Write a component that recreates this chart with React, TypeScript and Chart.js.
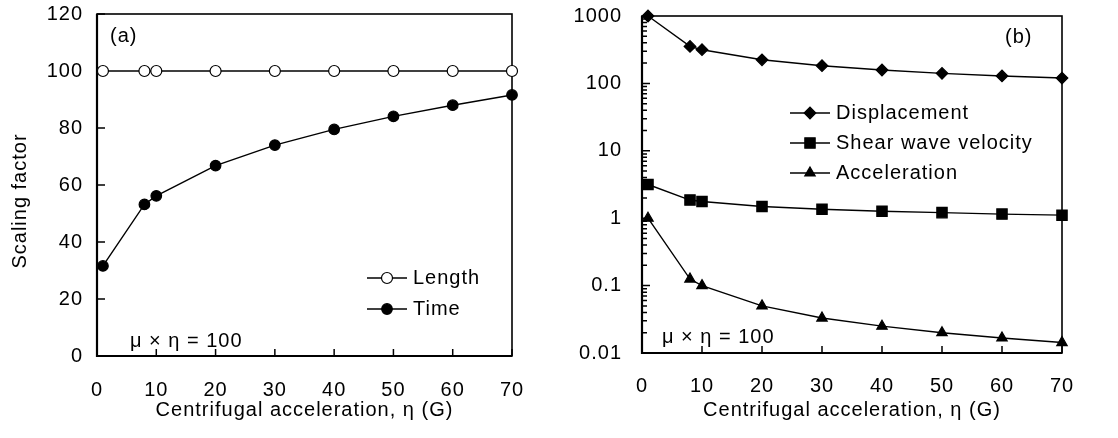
import React, { useEffect, useRef } from 'react';
import { Chart, registerables } from 'chart.js';

Chart.register(...registerables);

// ---------------- data ----------------
const etaValues = [1, 8, 10, 20, 30, 40, 50, 60, 70];
const lengthFactor = [100, 100, 100, 100, 100, 100, 100, 100, 100];
const timeFactor = [31.6, 53.2, 56.2, 66.8, 74.0, 79.5, 84.1, 88.0, 91.6];
const displacementFactor = [1000, 354, 316, 224, 183, 158, 141, 129, 120];
const shearVelocityFactor = [3.16, 1.86, 1.77, 1.49, 1.36, 1.27, 1.21, 1.15, 1.11];
const accelerationFactor = [1, 0.125, 0.1, 0.05, 0.033, 0.025, 0.02, 0.0167, 0.0143];

const xTicks = [0, 10, 20, 30, 40, 50, 60, 70];
const yTicksA = [0, 20, 40, 60, 80, 100, 120];
const yTicksB = [0.01, 0.1, 1, 10, 100, 1000];

const xTitle = 'Centrifugal acceleration, \u03B7 (G)';
const yTitleA = 'Scaling factor';
const relationText = '\u03BC \u00D7 \u03B7 = 100';

// ---------------- styles ----------------
const FAMILY = '"Liberation Sans", Arial, Helvetica, sans-serif';
const FS = 20;
const font = { family: FAMILY, size: FS };
const fontStr = `${FS}px ${FAMILY}`;

const pts = (ys: number[]) => etaValues.map((x, i) => ({ x, y: ys[i] }));

function drawMarker(ctx: CanvasRenderingContext2D, style: string, x: number, y: number, r: number, fill: string, stroke: string, bw: number) {
  ctx.beginPath();
  if (style === 'circle') {
    ctx.arc(x, y, r, 0, Math.PI * 2);
  } else if (style === 'rectRot') {
    ctx.moveTo(x - r, y);
    ctx.lineTo(x, y - r);
    ctx.lineTo(x + r, y);
    ctx.lineTo(x, y + r);
  } else if (style === 'rect') {
    const s = Math.SQRT1_2 * r;
    ctx.rect(x - s, y - s, 2 * s, 2 * s);
  } else if (style === 'triangle') {
    for (let k = 0; k < 3; k++) {
      const a = (k * 2 * Math.PI) / 3;
      const px = x + Math.sin(a) * r;
      const py = y - Math.cos(a) * r;
      if (k === 0) ctx.moveTo(px, py); else ctx.lineTo(px, py);
    }
  }
  ctx.closePath();
  ctx.fillStyle = fill;
  ctx.fill();
  ctx.lineWidth = bw;
  ctx.strokeStyle = stroke;
  ctx.stroke();
}

const spacingPlugin = {
  id: 'spacing',
  beforeLayout(chart: any) { chart.ctx.letterSpacing = '1px'; },
  beforeDraw(chart: any) { chart.ctx.letterSpacing = '1px'; },
};

const framePlugin = {
  id: 'frame',
  beforeDatasetsDraw(chart: any) {
    const { ctx, chartArea: a, scales } = chart;
    const xs = scales.x;
    const ys = scales.y;
    ctx.save();
    ctx.strokeStyle = '#000';
    ctx.lineWidth = 1.6;
    ctx.strokeRect(a.left, a.top, a.right - a.left, a.bottom - a.top);
    ctx.lineWidth = 2.2;
    ctx.beginPath();
    ctx.moveTo(a.left, a.top);
    ctx.lineTo(a.left, a.bottom);
    ctx.lineTo(a.right, a.bottom);
    ctx.stroke();
    ctx.lineWidth = 1.5;
    ctx.beginPath();
    xs.ticks.forEach((t: any) => {
      const px = xs.getPixelForValue(t.value);
      ctx.moveTo(px, a.bottom);
      ctx.lineTo(px, a.bottom - 7);
    });
    ys.ticks.forEach((t: any) => {
      const py = ys.getPixelForValue(t.value);
      ctx.moveTo(a.left, py);
      ctx.lineTo(a.left + 8, py);
    });
    if (ys.type === 'logarithmic') {
      for (let i = 0; i < yTicksB.length - 1; i++) {
        for (let k = 2; k <= 9; k++) {
          const py = ys.getPixelForValue(yTicksB[i] * k);
          ctx.moveTo(a.left, py);
          ctx.lineTo(a.left + 5, py);
        }
      }
    }
    ctx.stroke();
    ctx.restore();
  },
};

function makeAnnotPlugin(cfg: {
  panel: string; panelX: number; panelY: number;
  relX: number; relY: number;
  legX0: number; legX1: number; legMx: number; legTx: number; legY0: number; legDy: number;
  yTitle?: { text: string; x: number; y: number };
}) {
  return {
    id: 'annot',
    afterDatasetsDraw(chart: any) {
      const ctx = chart.ctx;
      ctx.save();
      ctx.letterSpacing = '1px';
      ctx.font = fontStr;
      ctx.fillStyle = '#000';
      ctx.textAlign = 'left';
      ctx.textBaseline = 'middle';
      ctx.fillText(cfg.panel, cfg.panelX, cfg.panelY);
      ctx.textBaseline = 'alphabetic';
      ctx.fillText(relationText, cfg.relX, cfg.relY);
      chart.data.datasets.forEach((ds: any, i: number) => {
        const y = cfg.legY0 + i * cfg.legDy;
        ctx.beginPath();
        ctx.strokeStyle = '#000';
        ctx.lineWidth = ds.borderWidth;
        ctx.moveTo(cfg.legX0, y);
        ctx.lineTo(cfg.legX1, y);
        ctx.stroke();
        drawMarker(ctx, ds.pointStyle, cfg.legMx, y, ds.pointRadius, ds.pointBackgroundColor, ds.pointBorderColor, ds.pointBorderWidth);
        ctx.fillStyle = '#000';
        ctx.textBaseline = 'middle';
        ctx.textAlign = 'left';
        ctx.fillText(ds.label, cfg.legTx, y);
      });
      if (cfg.yTitle) {
        ctx.translate(cfg.yTitle.x, cfg.yTitle.y);
        ctx.rotate(-Math.PI / 2);
        ctx.textAlign = 'center';
        ctx.textBaseline = 'middle';
        ctx.fillText(cfg.yTitle.text, 0, 0);
      }
      ctx.restore();
    },
  };
}

const lineDs = (label: string, data: number[], style: string, r: number, fill: string) => ({
  label,
  data: pts(data),
  borderColor: '#000',
  borderWidth: 1.4,
  pointStyle: style,
  pointRadius: r,
  pointBackgroundColor: fill,
  pointBorderColor: '#000',
  pointBorderWidth: 1.2,
  clip: false,
  tension: 0,
});

function xScale(height: number, pad: number) {
  return {
    type: 'linear',
    min: 0,
    max: 70,
    afterBuildTicks: (s: any) => { s.ticks = xTicks.map((v) => ({ value: v })); },
    grid: { display: false, drawTicks: false },
    border: { display: false },
    ticks: { padding: pad, font, color: '#000', callback: (v: any) => String(v), maxRotation: 0, autoSkip: false },
    title: { display: true, text: xTitle, font, color: '#000', padding: { top: 0, bottom: 16 } },
    afterFit: (s: any) => { s.height = height; s.paddingLeft = 0; s.paddingRight = 0; },
  };
}

function buildA(canvas: HTMLCanvasElement) {
  return new Chart(canvas, {
    type: 'line',
    data: {
      datasets: [
        lineDs('Length', lengthFactor, 'circle', 5.5, '#fff'),
        lineDs('Time', timeFactor, 'circle', 5.3, '#000'),
      ],
    },
    options: {
      animation: false,
      responsive: false,
      devicePixelRatio: 1,
      events: [],
      layout: { padding: { left: 0, right: 47, top: 14, bottom: 0 } },
      plugins: { legend: { display: false }, tooltip: { enabled: false } },
      scales: {
        x: xScale(82, 22),
        y: {
          type: 'linear',
          min: 0,
          max: 120,
          afterBuildTicks: (s: any) => { s.ticks = yTicksA.map((v) => ({ value: v })); },
          grid: { display: false, drawTicks: false },
          border: { display: false },
          ticks: { padding: 14, font, color: '#000', callback: (v: any) => String(v) },
          afterFit: (s: any) => { s.width = 97; s.paddingTop = 0; s.paddingBottom = 0; },
        },
      },
    } as any,
    plugins: [
      spacingPlugin,
      framePlugin,
      makeAnnotPlugin({
        panel: '(a)', panelX: 110, panelY: 36,
        relX: 130, relY: 347,
        legX0: 367, legX1: 407, legMx: 387, legTx: 413, legY0: 278, legDy: 31,
        yTitle: { text: yTitleA, x: 20, y: 201 },
      }),
    ],
  } as any);
}

function buildB(canvas: HTMLCanvasElement) {
  return new Chart(canvas, {
    type: 'line',
    data: {
      datasets: [
        lineDs('Displacement', displacementFactor, 'rectRot', 5.8, '#000'),
        lineDs('Shear wave velocity', shearVelocityFactor, 'rect', 7.3, '#000'),
        lineDs('Acceleration', accelerationFactor, 'triangle', 6.0, '#000'),
      ],
    },
    options: {
      animation: false,
      responsive: false,
      devicePixelRatio: 1,
      events: [],
      layout: { padding: { left: 0, right: 56, top: 16, bottom: 0 } },
      plugins: { legend: { display: false }, tooltip: { enabled: false } },
      scales: {
        x: xScale(85, 21),
        y: {
          type: 'logarithmic',
          min: 0.01,
          max: 1000,
          afterBuildTicks: (s: any) => { s.ticks = yTicksB.map((v) => ({ value: v, major: true })); },
          grid: { display: false, drawTicks: false },
          border: { display: false },
          ticks: { padding: 20, font, color: '#000', callback: (v: any) => String(v), autoSkip: false },
          afterFit: (s: any) => { s.width = 83; s.paddingTop = 0; s.paddingBottom = 0; },
        },
      },
    } as any,
    plugins: [
      spacingPlugin,
      framePlugin,
      makeAnnotPlugin({
        panel: '(b)', panelX: 446, panelY: 37,
        relX: 103, relY: 343,
        legX0: 231, legX1: 271, legMx: 251, legTx: 277, legY0: 113, legDy: 30,
      }),
    ],
  } as any);
}

export default function App() {
  const refA = useRef<HTMLCanvasElement | null>(null);
  const refB = useRef<HTMLCanvasElement | null>(null);

  useEffect(() => {
    const a = buildA(refA.current!);
    const b = buildB(refB.current!);
    return () => {
      a.destroy();
      b.destroy();
    };
  }, []);

  return (
    <div style={{ position: 'fixed', left: 0, top: 0, width: 1118, height: 438, background: '#fff' }}>
      <canvas ref={refA} width={559} height={438} style={{ position: 'absolute', left: 0, top: 0, width: 559, height: 438 }} />
      <canvas ref={refB} width={559} height={438} style={{ position: 'absolute', left: 559, top: 0, width: 559, height: 438 }} />
    </div>
  );
}
